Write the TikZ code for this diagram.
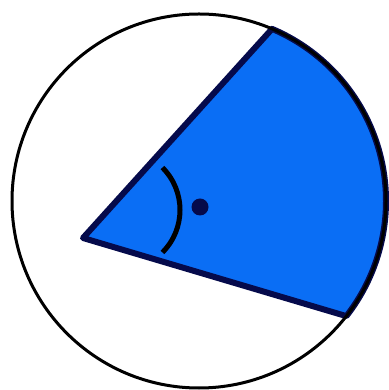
\documentclass[tikz,border=0pt]{standalone}
\usepackage{xcolor}
\definecolor{sectorblue}{RGB}{10, 110, 245}
\definecolor{darknavy}{RGB}{5, 10, 75}
\usetikzlibrary{calc}

\begin{document}
\begin{tikzpicture}[
  x=1pt, y=1pt,
  rim/.style={draw=black, line width=3pt},
  sector/.style={fill=sectorblue, draw=darknavy, line width=6pt, line join=round},
  anglemark/.style={draw=black, line width=5pt},
  centre/.style={fill=darknavy}
]
\useasboundingbox (0,0) rectangle (388,390);

\coordinate (O) at (199,189);
\coordinate (V) at (83,152);
\coordinate (T) at ($(O)+(67:187)$);
\coordinate (B) at ($(O)+(-38:187)$);
\coordinate (M) at (120,180);

% shaded sector
\path[sector] (V) -- (T) arc[start angle=67, end angle=-38, radius=187] -- cycle;

% outer circle
\draw[rim] (O) circle[radius=187];

% angle mark and dot
\draw[anglemark] ($(M)+(45:60)$) arc[start angle=45, end angle=-45, radius=60];
\fill[centre] (200,183) circle[radius=8.5];

\end{tikzpicture}
\end{document}
